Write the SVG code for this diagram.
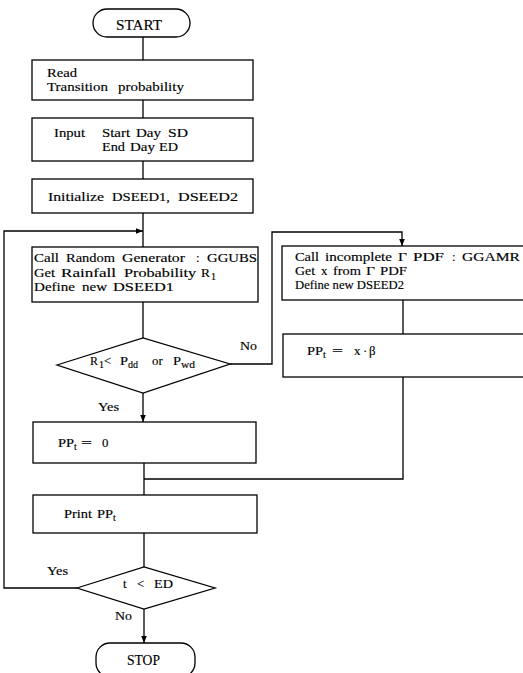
<svg xmlns="http://www.w3.org/2000/svg" width="523" height="673" viewBox="0 0 523 673">
<defs>
<style>
.s{fill:none;stroke:#000;stroke-width:1.3}
.b{fill:#fff;stroke:#000;stroke-width:1.3}
text{font-family:"Liberation Serif","Times New Roman",serif;font-size:12.8px;fill:#000;stroke:#000;stroke-width:0.15}
tspan,text{lengthAdjust:spacingAndGlyphs}
.sub{font-size:10px}
.big{font-size:14.5px}
</style>
<marker id="ah" viewBox="0 0 10 10" refX="10" refY="5" markerWidth="7" markerHeight="7" orient="auto" markerUnits="userSpaceOnUse">
<path d="M0,1 L10,5 L0,9 Z" fill="#000"/>
</marker>
</defs>
<rect width="523" height="673" fill="#fff"/>
<g id="connectors" class="s">
<line x1="143" y1="37" x2="143" y2="60"/>
<line x1="143" y1="100" x2="143" y2="118"/>
<line x1="143" y1="161" x2="143" y2="179"/>
<line x1="143" y1="213" x2="143" y2="247"/>
<polyline points="77,588 4,588 4,231 143,231" marker-end="url(#ah)"/>
<line x1="143" y1="302" x2="143" y2="338"/>
<polyline points="230,364 272,364 272,232 402,232 402,246" marker-end="url(#ah)"/>
<line x1="403" y1="300" x2="403" y2="334"/>
<polyline points="403,377 403,479 144,479"/>
<line x1="143" y1="393" x2="143" y2="422" marker-end="url(#ah)"/>
<line x1="144" y1="463" x2="144" y2="495"/>
<line x1="144" y1="533" x2="144" y2="567"/>
<line x1="144" y1="609" x2="144" y2="643" marker-end="url(#ah)"/>
</g>
<g id="start"><rect class="b" x="93" y="9" width="97" height="28" rx="14"/><text class="big" x="116" y="30" textLength="46" lengthAdjust="spacingAndGlyphs">START</text></g>
<g id="read"><rect class="b" x="32" y="60" width="221" height="40"/>
<text x="47" y="77" textLength="30" lengthAdjust="spacingAndGlyphs">Read</text>
<text y="91"><tspan x="47" textLength="61" lengthAdjust="spacingAndGlyphs">Transition</tspan><tspan x="118" textLength="66" lengthAdjust="spacingAndGlyphs">probability</tspan></text></g>
<g id="input"><rect class="b" x="32" y="118" width="221" height="43"/>
<text y="137"><tspan x="54" textLength="31" lengthAdjust="spacingAndGlyphs">Input</tspan><tspan x="102" textLength="28" lengthAdjust="spacingAndGlyphs">Start</tspan><tspan x="136" textLength="25" lengthAdjust="spacingAndGlyphs">Day</tspan><tspan x="168" textLength="20" lengthAdjust="spacingAndGlyphs">SD</tspan></text>
<text y="151"><tspan x="102" textLength="23" lengthAdjust="spacingAndGlyphs">End</tspan><tspan x="130" textLength="25" lengthAdjust="spacingAndGlyphs">Day</tspan><tspan x="159" textLength="19" lengthAdjust="spacingAndGlyphs">ED</tspan></text></g>
<g id="init"><rect class="b" x="32" y="179" width="221" height="34"/>
<text y="201"><tspan x="48" textLength="56" lengthAdjust="spacingAndGlyphs">Initialize</tspan><tspan x="112" textLength="58" lengthAdjust="spacingAndGlyphs">DSEED1,</tspan><tspan x="178" textLength="60" lengthAdjust="spacingAndGlyphs">DSEED2</tspan></text></g>
<g id="random"><rect class="b" x="32" y="247" width="226" height="55"/>
<text y="262"><tspan x="34" textLength="25" lengthAdjust="spacingAndGlyphs">Call</tspan><tspan x="66" textLength="49" lengthAdjust="spacingAndGlyphs">Random</tspan><tspan x="122" textLength="63" lengthAdjust="spacingAndGlyphs">Generator</tspan><tspan x="196">:</tspan><tspan x="207" textLength="50" lengthAdjust="spacingAndGlyphs">GGUBS</tspan></text>
<text y="277"><tspan x="34" textLength="21" lengthAdjust="spacingAndGlyphs">Get</tspan><tspan x="61" textLength="55" lengthAdjust="spacingAndGlyphs">Rainfall</tspan><tspan x="124" textLength="72" lengthAdjust="spacingAndGlyphs">Probability</tspan><tspan x="201" textLength="9" lengthAdjust="spacingAndGlyphs">R</tspan><tspan x="211" dy="3" class="sub">1</tspan></text>
<text y="291"><tspan x="34" textLength="41" lengthAdjust="spacingAndGlyphs">Define</tspan><tspan x="82" textLength="25" lengthAdjust="spacingAndGlyphs">new</tspan><tspan x="113" textLength="61" lengthAdjust="spacingAndGlyphs">DSEED1</tspan></text></g>
<g id="gamma"><rect class="b" x="282" y="246" width="250" height="54"/>
<text y="261"><tspan x="295" textLength="24" lengthAdjust="spacingAndGlyphs">Call</tspan><tspan x="325" textLength="67" lengthAdjust="spacingAndGlyphs">incomplete</tspan><tspan x="398" textLength="9" lengthAdjust="spacingAndGlyphs">Γ</tspan><tspan x="413" textLength="31" lengthAdjust="spacingAndGlyphs">PDF</tspan><tspan x="452">:</tspan><tspan x="462" textLength="58" lengthAdjust="spacingAndGlyphs">GGAMR</tspan></text>
<text y="275"><tspan x="295" textLength="20" lengthAdjust="spacingAndGlyphs">Get</tspan><tspan x="321">x</tspan><tspan x="333" textLength="28" lengthAdjust="spacingAndGlyphs">from</tspan><tspan x="366" textLength="9" lengthAdjust="spacingAndGlyphs">Γ</tspan><tspan x="380" textLength="27" lengthAdjust="spacingAndGlyphs">PDF</tspan></text>
<text x="295" y="289" textLength="109" lengthAdjust="spacingAndGlyphs">Define new DSEED2</text></g>
<g id="ppx"><rect class="b" x="283" y="334" width="250" height="43"/>
<text y="355"><tspan x="307" textLength="16" lengthAdjust="spacingAndGlyphs">PP</tspan><tspan x="323" dy="3" class="sub">t</tspan><tspan x="332" y="355" textLength="11" lengthAdjust="spacingAndGlyphs">=</tspan><tspan x="354">x</tspan><tspan x="363">·</tspan><tspan x="369">β</tspan></text></g>
<g id="decision1"><polygon class="b" points="57,365 143,338 230,364 143,393"/>
<text y="365"><tspan x="90" textLength="8" lengthAdjust="spacingAndGlyphs">R</tspan><tspan x="99" dy="3" class="sub">1</tspan><tspan x="104" y="365">&lt;</tspan><tspan x="120" textLength="8" lengthAdjust="spacingAndGlyphs">P</tspan><tspan x="128" dy="3" class="sub">dd</tspan><tspan x="152" y="365">or</tspan><tspan x="173" textLength="8" lengthAdjust="spacingAndGlyphs">P</tspan><tspan x="181" dy="3" class="sub" textLength="14" lengthAdjust="spacingAndGlyphs">wd</tspan></text></g>
<g id="labels">
<text x="240" y="350" textLength="17" lengthAdjust="spacingAndGlyphs">No</text>
<text x="98" y="411" textLength="21" lengthAdjust="spacingAndGlyphs">Yes</text>
<text x="47" y="575" textLength="21" lengthAdjust="spacingAndGlyphs">Yes</text>
<text x="115" y="620" textLength="17" lengthAdjust="spacingAndGlyphs">No</text>
</g>
<g id="pp0"><rect class="b" x="33" y="422" width="223" height="41"/>
<text y="447"><tspan x="58" textLength="16" lengthAdjust="spacingAndGlyphs">PP</tspan><tspan x="74" dy="3" class="sub">t</tspan><tspan x="81" y="447" textLength="11" lengthAdjust="spacingAndGlyphs">=</tspan><tspan x="102">0</tspan></text></g>
<g id="print"><rect class="b" x="33" y="495" width="224" height="38"/>
<text y="518"><tspan x="64" textLength="28" lengthAdjust="spacingAndGlyphs">Print</tspan><tspan x="97" textLength="16" lengthAdjust="spacingAndGlyphs">PP</tspan><tspan x="113" dy="3" class="sub">t</tspan></text></g>
<g id="decision2"><polygon class="b" points="77,588 144,567 215,588 144,609"/>
<text y="588"><tspan x="123">t</tspan><tspan x="137">&lt;</tspan><tspan x="154" textLength="19" lengthAdjust="spacingAndGlyphs">ED</tspan></text></g>
<g id="stop"><rect class="b" x="96" y="643" width="99" height="34" rx="14"/><text class="big" x="127" y="665" textLength="33" lengthAdjust="spacingAndGlyphs">STOP</text></g>
</svg>
